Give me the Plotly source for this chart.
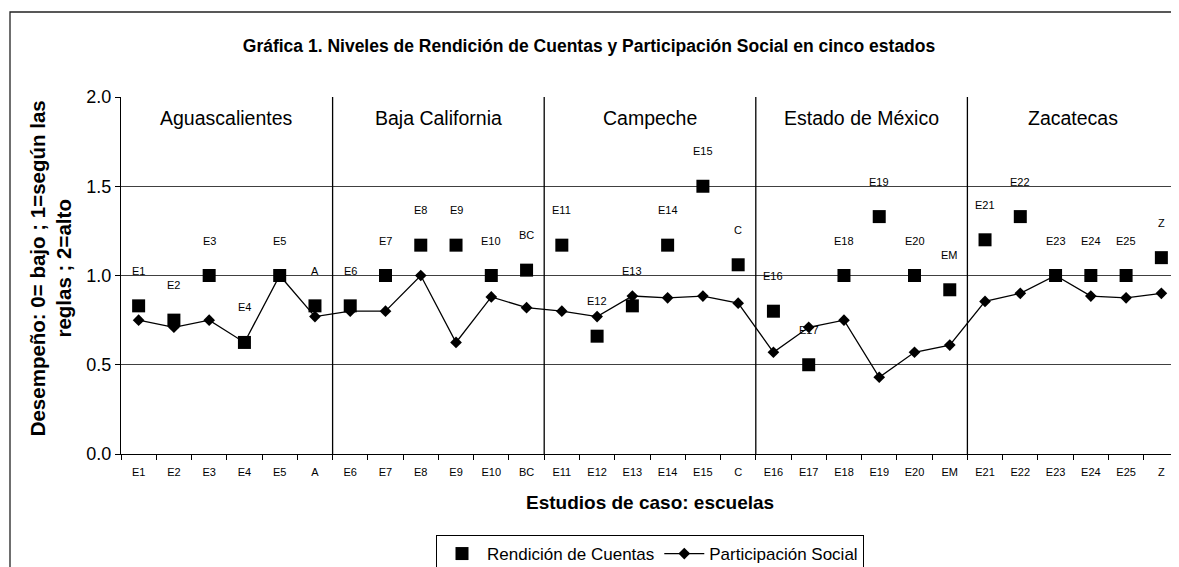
import plotly.graph_objects as go

categories = ["E1", "E2", "E3", "E4", "E5", "A",
              "E6", "E7", "E8", "E9", "E10", "BC",
              "E11", "E12", "E13", "E14", "E15", "C",
              "E16", "E17", "E18", "E19", "E20", "EM",
              "E21", "E22", "E23", "E24", "E25", "Z"]

rendicion = [0.83, 0.75, 1.0, 0.625, 1.0, 0.83,
             0.83, 1.0, 1.17, 1.17, 1.0, 1.03,
             1.17, 0.66, 0.83, 1.17, 1.5, 1.06,
             0.80, 0.50, 1.0, 1.33, 1.0, 0.92,
             1.20, 1.33, 1.0, 1.0, 1.0, 1.10]

participacion = [0.75, 0.71, 0.75, 0.625, 1.0, 0.77,
                 0.80, 0.80, 1.0, 0.625, 0.88, 0.82,
                 0.80, 0.77, 0.885, 0.875, 0.885, 0.845,
                 0.57, 0.71, 0.75, 0.43, 0.57, 0.61,
                 0.855, 0.90, 1.0, 0.885, 0.875, 0.90]

estados = ["Aguascalientes", "Baja California", "Campeche", "Estado de México", "Zacatecas"]
group_size = 6

FONT = "Liberation Sans, Arial, sans-serif"
W, H = 1163, 559
OFF = 8  # page body margin
LEFT = 121 - OFF
CAT_PX = 1058 / len(categories)  # pixel width of one category in the reference
x_end = -0.5 + (W - LEFT) / CAT_PX  # reference plot is cropped at the right edge

fig = go.Figure()
fig.add_trace(go.Scatter(
    x=categories, y=rendicion, mode="markers", name="Rendición de Cuentas",
    marker=dict(symbol="square", size=13, color="black"),
))
fig.add_trace(go.Scatter(
    x=categories, y=participacion, mode="lines+markers", name="Participación Social",
    line=dict(color="black", width=1.3),
    marker=dict(symbol="diamond", size=9, color="black"),
))

annotations = []
for c, v in zip(categories, rendicion):
    annotations.append(dict(x=c, y=v, xref="x", yref="y", text=c, showarrow=False,
                            yshift=35, font=dict(family=FONT, size=11, color="black")))
for i, s in enumerate(estados):
    annotations.append(dict(x=i * group_size + (group_size - 1) / 2, y=1.88, xref="x", yref="y",
                            text=s, showarrow=False,
                            font=dict(family=FONT, size=19.5, color="black")))
annotations.append(dict(x=(650 - OFF - LEFT) / (W - LEFT), y=-0.135, xref="paper", yref="paper",
                        xanchor="center", yanchor="middle", showarrow=False,
                        text="<b>Estudios de caso: escuelas</b>",
                        font=dict(family=FONT, size=19, color="black")))
annotations.append(dict(x=(51 - OFF - LEFT) / (W - LEFT), y=0.52, xref="paper", yref="paper",
                        xanchor="center", yanchor="middle", showarrow=False, textangle=-90,
                        text="<b>Desempeño: 0= bajo ; 1=según las<br>reglas ; 2=alto</b>",
                        font=dict(family=FONT, size=20.5, color="black")))

shapes = []
for i in range(1, len(estados)):
    shapes.append(dict(type="line", xref="x", yref="y", x0=i * group_size - 0.5,
                       x1=i * group_size - 0.5, y0=0, y1=2,
                       line=dict(color="black", width=1.3)))
shapes.append(dict(type="rect", xref="paper", yref="paper",
                   x0=(10 - OFF - LEFT) / (W - LEFT), x1=1.2,
                   y0=-0.5, y1=1.2381, line=dict(color="#222222", width=1.3),
                   fillcolor="rgba(0,0,0,0)", layer="below"))

fig.update_layout(
    width=W, height=H,
    margin=dict(l=LEFT, r=0, t=97 - OFF, b=H - (454 - OFF), autoexpand=False),
    paper_bgcolor="white", plot_bgcolor="white",
    title=dict(text="<b>Gráfica 1. Niveles de Rendición de Cuentas y Participación Social en cinco estados</b>",
               x=(589 - OFF) / W, xref="container", xanchor="center", y=1 - (46 - OFF) / H,
               yanchor="middle", font=dict(family=FONT, size=17.5, color="black")),
    font=dict(family=FONT, color="black"),
    showlegend=True,
    legend=dict(orientation="h", x=(650 - OFF - LEFT) / (W - LEFT), xanchor="center",
                yref="container", y=1 - (535 - OFF) / H, yanchor="top",
                bordercolor="black", borderwidth=1, bgcolor="white", itemwidth=40,
                font=dict(family=FONT, size=17, color="black")),
    annotations=annotations,
    shapes=shapes,
)
fig.update_xaxes(type="category", range=[-0.5, x_end], automargin=False,
                 showgrid=False, showline=True, linecolor="black", linewidth=1,
                 ticks="outside", tickson="boundaries", ticklen=5, tickcolor="black",
                 ticklabelstandoff=8,
                 tickfont=dict(family=FONT, size=11, color="black"))
fig.update_yaxes(range=[0, 2], dtick=0.5, tickformat=".1f", automargin=False,
                 showgrid=True, gridcolor="#404040", gridwidth=1,
                 showline=True, linecolor="black", linewidth=1, zeroline=False,
                 ticks="outside", ticklen=5, tickcolor="black",
                 tickfont=dict(family=FONT, size=18, color="black"))

fig.write_html("out.html")
